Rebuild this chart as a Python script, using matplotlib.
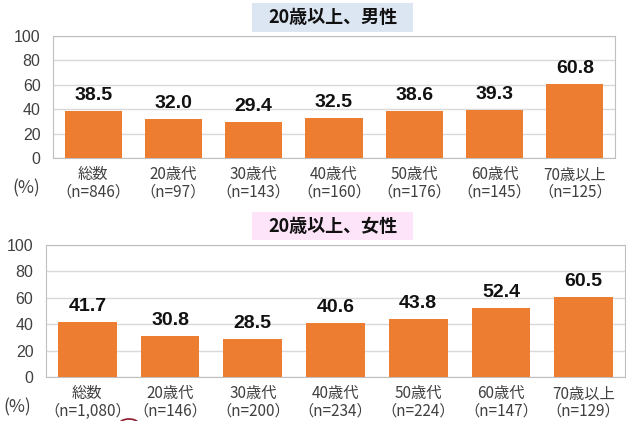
import matplotlib.pyplot as plt
from matplotlib.patches import Rectangle, Arc

plt.rcParams['font.family'] = ['Noto Sans CJK JP', 'DejaVu Sans']

groups = ['総数', '20歳代', '30歳代', '40歳代', '50歳代', '60歳代', '70歳以上']
men_n = ['846', '97', '143', '160', '176', '145', '125']
women_n = ['1,080', '146', '200', '234', '224', '147', '129']
men = [38.5, 32.0, 29.4, 32.5, 38.6, 39.3, 60.8]
women = [41.7, 30.8, 28.5, 40.6, 43.8, 52.4, 60.5]

W, H = 626, 421
fig = plt.figure(figsize=(W / 100, H / 100), dpi=100)

bar_color = '#ed7d31'


def box(px_l, px_t, px_r, px_b):
    return [px_l / W, 1 - px_b / H, (px_r - px_l) / W, (px_b - px_t) / H]


def panel(rect, vals, ns, title, tcol, tbox, pct_xy):
    ax = fig.add_axes(box(*rect))
    x = range(len(vals))
    bars = ax.bar(x, vals, width=0.71, color=bar_color, zorder=3)
    for b, v in zip(bars, vals):
        ax.annotate(f'{v:.1f}', (b.get_x() + b.get_width() / 2, v),
                    xytext=(0, 5), textcoords='offset points',
                    ha='center', va='bottom', fontsize=14, fontweight='bold',
                    family='Liberation Sans', color='#111111')
    ax.set_xlim(-0.5, len(vals) - 0.5)
    ax.set_ylim(0, 100)
    ax.set_yticks(range(0, 101, 20))
    ax.set_xticks(list(x))
    ax.set_xticklabels([f'{g}\n（n={n}）' for g, n in zip(groups, ns)],
                       fontsize=11, color='#404040', linespacing=1.05)
    ax.tick_params(axis='both', length=0, colors='#404040')
    ax.tick_params(axis='y', pad=9)
    ax.tick_params(axis='x', pad=6)
    for lab in ax.get_yticklabels():
        lab.set_family('Liberation Sans')
        lab.set_fontsize(11.5)
    ax.grid(axis='y', color='#d9d9d9', linewidth=1, zorder=0)
    for s in ax.spines.values():
        s.set_color('#bfbfbf')
    # title box
    l, t, r, b = tbox
    fig.patches.append(Rectangle((l / W, 1 - b / H), (r - l) / W, (b - t) / H,
                                 transform=fig.transFigure, facecolor=tcol,
                                 edgecolor='none'))
    fig.text((l + r) / 2 / W, 1 - (t + b) / 2 / H, title, ha='center',
             va='center', fontsize=13, fontweight='bold', color='#111111')
    fig.text(pct_xy[0] / W, 1 - pct_xy[1] / H, '(%)', ha='center',
             va='center', fontsize=12.5, color='#404040')
    return ax


panel((53, 36, 615, 158), men, men_n, '20歳以上、男性', '#dce6f2',
      (252, 3, 413, 32), (26, 188))
panel((46, 245, 625, 377), women, women_n, '20歳以上、女性', '#fde4f9',
      (252, 212, 413, 240), (17, 407))

fig.patches.append(Arc((129 / W, 1 - 426 / H), 22 / W, 14 / H, theta1=40,
                       theta2=150, transform=fig.transFigure,
                       color='#8b1a2b', linewidth=1.2))

fig.savefig('out.png', dpi=100)
